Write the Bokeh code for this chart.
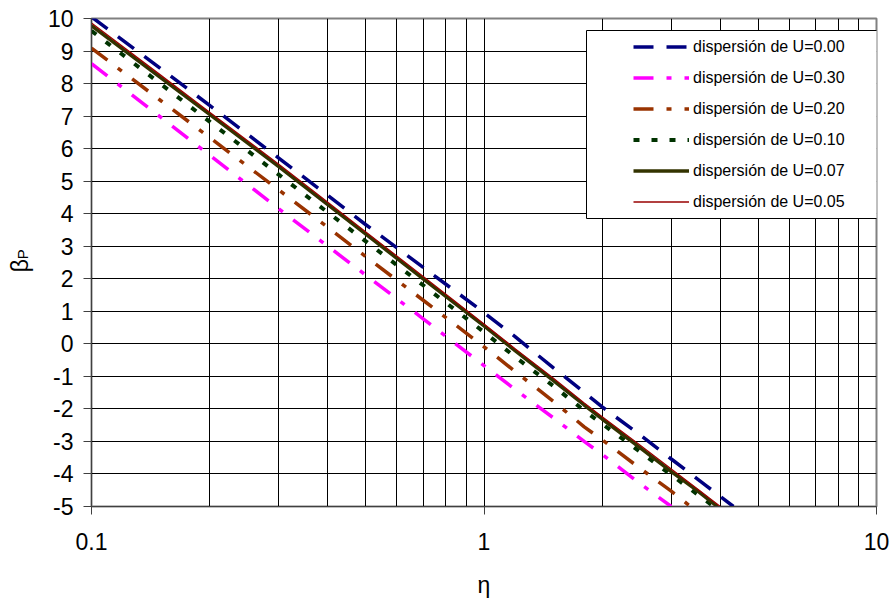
from bokeh.plotting import figure
from bokeh.models import FixedTicker, Legend, LegendItem, BoxAnnotation, LinearAxis
from bokeh.embed import file_html
from bokeh.resources import INLINE

# ---- data ----
eta_u000 = [0.1, 0.15, 0.2, 0.3, 0.4, 0.5, 0.7, 1.0, 1.2, 1.5, 1.8, 2.0, 2.5, 3.0, 3.7, 4.32]
beta_u000 = [10.05, 8.46, 7.33, 5.71, 4.56, 3.66, 2.35, 0.96, 0.22, -0.73, -1.49, -1.94, -2.80, -3.54, -4.38, -5.0]

eta_u030 = [0.1, 0.15, 0.2, 0.3, 0.4, 0.5, 0.7, 1.0, 1.2, 1.5, 1.8, 2.0, 2.5, 3.0]
beta_u030 = [8.61, 6.97, 5.80, 4.15, 3.00, 2.11, 0.77, -0.67, -1.40, -2.27, -3.00, -3.40, -4.30, -5.0]

eta_u020 = [0.1, 0.15, 0.2, 0.3, 0.4, 0.5, 0.7, 1.0, 1.2, 1.5, 1.8, 2.0, 2.5, 3.0, 3.36]
beta_u020 = [9.09, 7.48, 6.34, 4.73, 3.58, 2.68, 1.34, -0.09, -0.85, -1.76, -2.55, -2.95, -3.83, -4.53, -5.0]

eta_u010 = [0.1, 0.15, 0.2, 0.3, 0.4, 0.5, 0.7, 1.0, 1.2, 1.5, 1.8, 2.0, 2.5, 3.0, 3.5, 3.85]
beta_u010 = [9.62, 7.99, 6.83, 5.20, 4.04, 3.15, 1.80, 0.36, -0.40, -1.29, -2.05, -2.46, -3.32, -4.03, -4.63, -5.0]

eta_u007 = [0.1, 0.15, 0.2, 0.3, 0.4, 0.5, 0.7, 1.0, 1.2, 1.5, 1.8, 2.0, 2.5, 3.0, 3.5, 3.93]
beta_u007 = [9.78, 8.18, 7.05, 5.45, 4.28, 3.37, 2.00, 0.55, -0.21, -1.12, -1.88, -2.31, -3.20, -3.93, -4.52, -5.0]

eta_u005 = [0.1, 0.15, 0.2, 0.3, 0.4, 0.5, 0.7, 1.0, 1.2, 1.5, 1.8, 2.0, 2.5, 3.0, 3.5, 4.0]
beta_u005 = [9.86, 8.26, 7.12, 5.52, 4.35, 3.44, 2.07, 0.61, -0.15, -1.05, -1.82, -2.24, -3.12, -3.85, -4.46, -5.0]

series_labels = ["dispersión de U=0.00", "dispersión de U=0.30", "dispersión de U=0.20",
                 "dispersión de U=0.10", "dispersión de U=0.07", "dispersión de U=0.05"]

x_ticks = [0.1, 1, 10]
x_tick_labels = ["0.1", "1", "10"]
x_minor = [0.2, 0.3, 0.4, 0.5, 0.6, 0.7, 0.8, 0.9, 2, 3, 4, 5, 6, 7, 8, 9]
y_ticks = list(range(-5, 11))
y_tick_labels = [str(v) for v in y_ticks]
x_title = "η"
y_title_main = "β"
y_title_sub = "P"

FONT = "Liberation Sans"
NBSP = "\u00a0"

p = figure(width=894, height=603, x_axis_type="log", x_range=(0.1, 10), y_range=(-5, 10),
           output_backend="svg", toolbar_location=None,
           min_border_left=91, min_border_right=18, min_border_top=18, min_border_bottom=97)
p.background_fill_color = "white"
p.border_fill_color = "white"
p.outline_line_color = "#808080"
p.outline_line_width = 2

p.xaxis.ticker = FixedTicker(ticks=x_ticks, minor_ticks=x_minor)
p.yaxis.ticker = FixedTicker(ticks=y_ticks)
p.xaxis.major_label_overrides = dict(zip(x_ticks, x_tick_labels))
p.yaxis.major_label_overrides = dict(zip(y_ticks, y_tick_labels))

for ax in (p.xaxis, p.yaxis):
    ax.major_label_text_font = FONT
    ax.major_label_text_font_size = "23px"
    ax.major_label_text_color = "black"
    ax.major_tick_out = 8
    ax.major_tick_in = 0
    ax.minor_tick_line_color = None
    ax.axis_line_color = "#404040"
    ax.major_tick_line_color = "#404040"
    ax.axis_label_text_font = FONT
    ax.axis_label_text_font_style = "normal"
    ax.axis_label_text_color = "black"
p.xaxis.major_label_standoff = 18
p.yaxis.major_label_standoff = 10

p.xaxis.axis_label = x_title
p.xaxis.axis_label_standoff = 19
p.xaxis.axis_label_text_font_size = "23px"

# main symbol β on the tick axis (trailing no-break spaces nudge it slightly down)
p.yaxis.axis_label = y_title_main + NBSP
p.yaxis.axis_label_standoff = 12
p.yaxis.axis_label_text_font_size = "23px"

# subscript "P" on an outer, empty axis pulled back next to the β
sub_ax = LinearAxis(ticker=FixedTicker(ticks=[]), axis_label=NBSP * 4 + y_title_sub,
                    axis_line_color=None, major_tick_line_color=None, minor_tick_line_color=None,
                    major_tick_out=0, major_tick_in=0, minor_tick_out=0, minor_tick_in=0,
                    major_label_standoff=0, axis_label_standoff=-27,
                    axis_label_text_font=FONT, axis_label_text_font_size="15px",
                    axis_label_text_font_style="normal", axis_label_text_color="black")
p.add_layout(sub_ax, "left")

p.xgrid.grid_line_color = "black"
p.xgrid.minor_grid_line_color = "black"
p.ygrid.grid_line_color = "black"

r0 = p.line(eta_u000, beta_u000, line_color="#000080", line_width=3.5, line_dash="20 13")
r1 = p.line(eta_u030, beta_u030, line_color="#FF00FF", line_width=3.5, line_dash="20 13 5 13")
r2 = p.line(eta_u020, beta_u020, line_color="#993300", line_width=3.5, line_dash="20 13 5 13")
r3 = p.line(eta_u010, beta_u010, line_color="#003300", line_width=4, line_dash="6 12")
r4 = p.line(eta_u007, beta_u007, line_color="#333300", line_width=3.5)
r5 = p.line(eta_u005, beta_u005, line_color="#990000", line_width=1.3)

box = BoxAnnotation(left=495, right=794, bottom=288, top=476,
                    left_units="screen", right_units="screen",
                    top_units="screen", bottom_units="screen",
                    fill_color="white", fill_alpha=1.0,
                    line_color="black", line_width=1, line_alpha=1.0)
p.add_layout(box)

items = [LegendItem(label=lab, renderers=[r]) for lab, r in zip(series_labels, [r0, r1, r2, r3, r4, r5])]
legend = Legend(items=items, location=(542, 289), padding=0, margin=0, spacing=0,
                glyph_width=56, glyph_height=31, label_height=31, label_standoff=4,
                background_fill_alpha=0, border_line_alpha=0,
                label_text_font=FONT, label_text_font_size="16px", label_text_color="black")
p.add_layout(legend)

open("out.html", "w").write(file_html(p, INLINE))
